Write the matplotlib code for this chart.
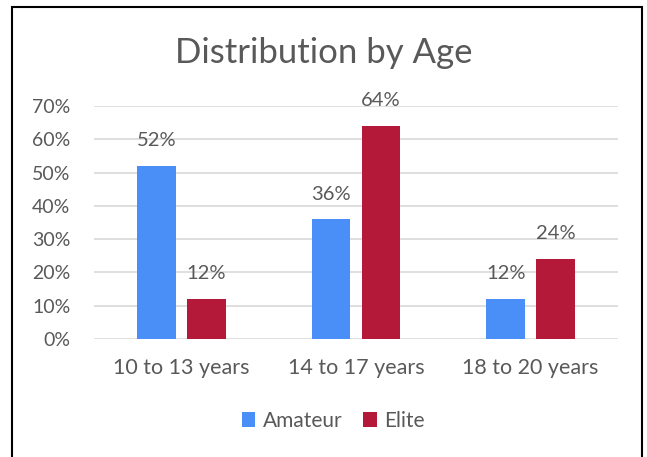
import matplotlib.pyplot as plt
from matplotlib.patches import Rectangle
import numpy as np

categories = ['10 to 13 years', '14 to 17 years', '18 to 20 years']
amateur = [52, 36, 12]
elite = [12, 64, 24]
series = ['Amateur', 'Elite']

plt.rcParams['font.family'] = ['Lato', 'DejaVu Sans']
gray = '#595959'
blue = '#4A8FF8'
red = '#B4193A'

W, H = 647, 457
fig = plt.figure(figsize=(W / 100, H / 100), dpi=100)
ax = fig.add_axes([94 / W, 1 - 339 / H, (618 - 94) / W, (339 - 106) / H])

x = np.arange(len(categories))
bw = 0.223
off = 0.143
b1 = ax.bar(x - off, amateur, bw, color=blue, label=series[0], zorder=3)
b2 = ax.bar(x + off, elite, bw, color=red, label=series[1], zorder=3)
for bars in (b1, b2):
    for r in bars:
        ax.text(r.get_x() + r.get_width() / 2, r.get_height() + 5.0,
                f'{r.get_height():.0f}%', ha='center', va='bottom',
                fontsize=14.5, color=gray)

ax.set_xlim(-0.5, 2.5)
ax.set_ylim(0, 70)
ax.set_yticks(range(0, 71, 10))
ax.set_yticklabels([f'{v}%' for v in range(0, 71, 10)])
ax.set_xticks(x)
ax.set_xticklabels(categories)
ax.tick_params(length=0, labelcolor=gray)
ax.tick_params(axis='x', pad=14, labelsize=15.5)
ax.tick_params(axis='y', pad=17, labelsize=14)
ax.grid(axis='y', color='#D9D9D9', linewidth=1.2, zorder=0)
for s in ax.spines.values():
    s.set_visible(False)

fig.text(0.5, 1 - 53 / H, 'Distribution by Age', ha='center', va='center',
         fontsize=25, color=gray)

fig.legend(handles=[b1, b2], labels=series, loc='center',
           bbox_to_anchor=(0.515, 1 - 421 / H), ncol=2, frameon=False,
           fontsize=15, labelcolor=gray, handlelength=0.65, handleheight=0.7,
           handletextpad=0.35, columnspacing=1.0)

fig.patches.append(Rectangle((12 / W, -0.05), (642 - 12) / W, 1.05 - 7 / H,
                             transform=fig.transFigure, fill=False,
                             edgecolor='black', linewidth=1.5))

fig.savefig('out.png', dpi=100)
